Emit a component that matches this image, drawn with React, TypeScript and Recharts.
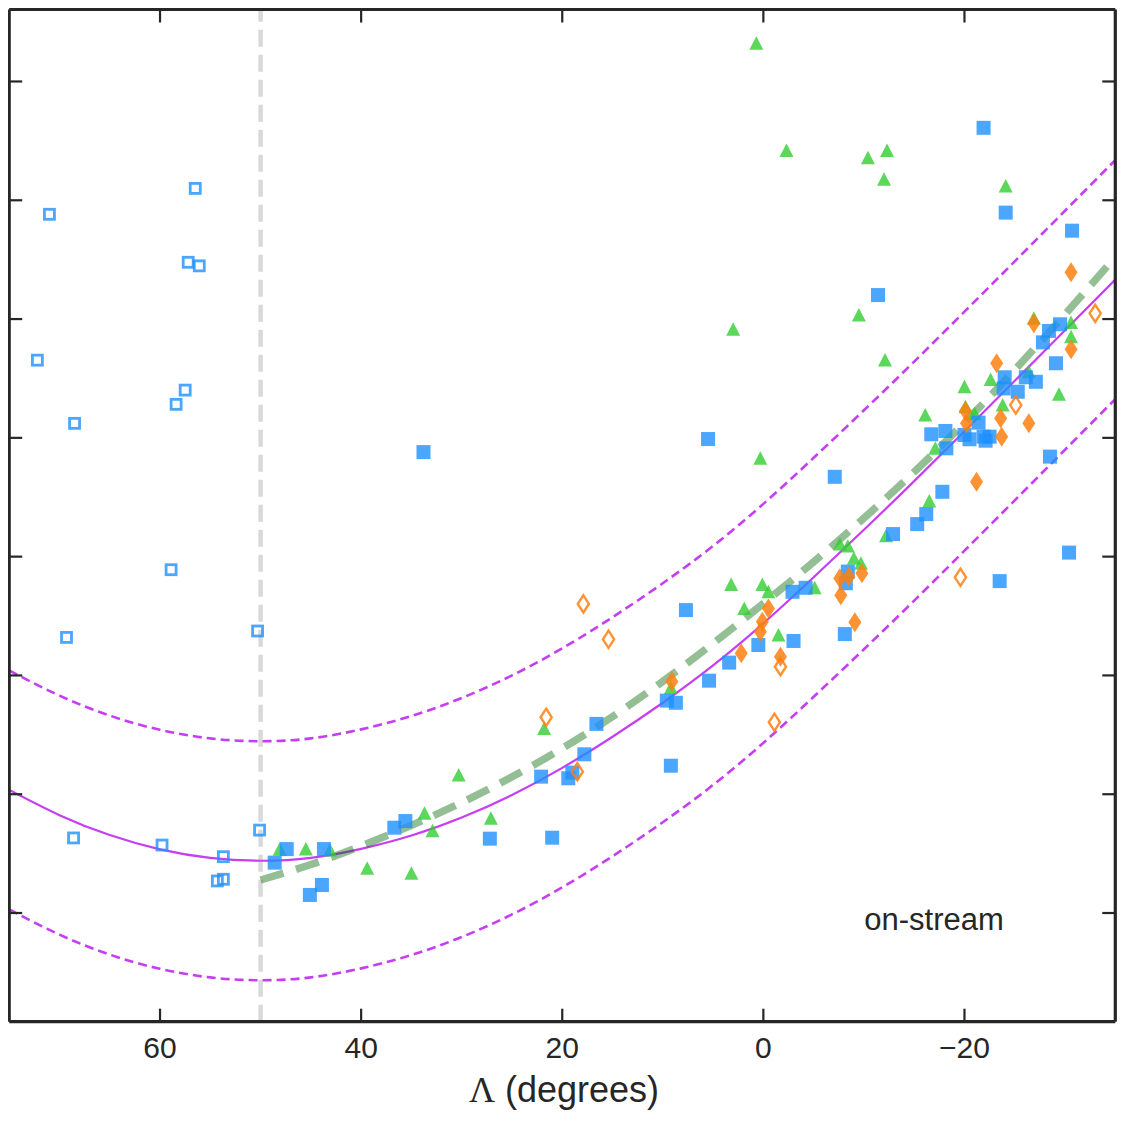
import React from 'react';
import {
  ComposedChart, XAxis, YAxis, Scatter, Line, ReferenceLine, Customized,
} from 'recharts';

// ---- axis ticks ----
const X_TICKS = [60, 40, 20, 0, -20];
const Y_TICKS = [0, 50, 100, 150, 200, 250, 300, 350];
const X_DOMAIN: [number, number] = [-35, 75];
const Y_DOMAIN: [number, number] = [-45.75, 380.3];

// ---- scatter series: [Lambda, value] ----
const OPEN_BLUE: [number, number][] = [
  [56.5, 305.0], [71.0, 294.1], [57.2, 273.9], [56.1, 272.4], [72.2, 232.7], [57.5, 220.1],
  [58.4, 214.1], [68.5, 206.1], [58.9, 144.5], [69.3, 116.0], [50.3, 118.7], [50.1, 34.9],
  [68.6, 31.6], [59.8, 28.6], [53.7, 23.7], [54.3, 13.5], [53.7, 14.2],
];

const FILLED_BLUE: [number, number][] = [
  [48.6, 21.2], [47.4, 26.9], [43.7, 26.9], [45.1, 7.6], [43.9, 11.8], [36.7, 35.9], [35.6, 38.7],
  [27.2, 31.3], [21.0, 31.7], [22.1, 57.4], [19.4, 56.7], [19.0, 59.1], [17.8, 66.8], [16.6, 79.6],
  [9.6, 89.4], [8.7, 88.5], [9.2, 62.0], [7.7, 127.5], [5.4, 97.8], [3.4, 105.4], [0.5, 112.8],
  [-2.9, 135.2], [-4.2, 136.9], [-8.4, 143.7], [-8.2, 138.8], [-8.1, 117.4], [-3.0, 114.5],
  [-7.1, 183.6], [-12.9, 159.5], [-15.3, 163.7], [-16.2, 167.9], [-17.8, 177.3], [-18.2, 195.6],
  [-16.7, 201.5], [-18.1, 202.9], [-20.0, 201.2], [-20.5, 199.4], [-21.4, 206.4], [-21.9, 200.5],
  [-22.1, 198.8], [-22.5, 200.5], [-24.0, 225.5], [-23.9, 220.8], [-25.3, 219.4], [-26.1, 225.5],
  [-27.1, 223.6], [-27.8, 240.2], [-28.4, 245.0], [-29.5, 247.8], [-29.1, 231.4], [-28.5, 192.1],
  [-21.9, 330.5], [-24.1, 294.8], [-30.7, 287.2], [-11.4, 260.1], [-30.4, 151.7], [-23.5, 139.7],
  [5.5, 199.5], [33.8, 194.0],
];

const GREEN_TRI: [number, number][] = [
  [48.1, 26.8], [45.5, 26.9], [43.1, 26.5], [39.4, 18.8], [35.0, 16.7], [33.7, 42.0], [32.9, 34.6],
  [30.3, 58.1], [27.1, 39.9], [21.8, 77.7], [9.2, 94.8], [3.2, 138.3], [0.1, 138.3], [-0.5, 135.2],
  [1.9, 128.2], [-1.5, 117.0], [0.3, 191.4], [-16.5, 173.4], [-17.1, 195.6], [-12.2, 158.8],
  [-7.6, 155.3], [-8.4, 154.5], [-9.0, 149.3], [-9.7, 147.2], [-5.1, 136.9], [-12.1, 232.8],
  [-20.0, 221.5], [-22.6, 224.6], [-16.1, 209.6], [-20.1, 213.1], [-21.0, 210.3], [-23.8, 213.8],
  [-26.4, 227.8], [-30.6, 248.6], [-30.6, 242.6], [-29.4, 218.4], [-26.9, 250.3], [0.7, 366.1],
  [-2.3, 320.9], [-10.4, 317.9], [-12.3, 320.9], [-12.0, 308.8], [-24.1, 306.0], [-9.5, 251.7],
  [3.0, 245.7],
];

const ORANGE_FILLED: [number, number][] = [
  [9.1, 97.4], [2.2, 109.3], [0.1, 122.6], [0.3, 118.4], [-0.5, 128.2], [-21.2, 181.5], [-7.6, 140.9],
  [-8.5, 141.5], [-9.8, 143.0], [-7.7, 133.8], [-9.1, 122.4], [-1.7, 107.9], [-26.9, 248.2],
  [-30.6, 237.3], [-23.2, 231.4], [-20.2, 206.1], [-23.6, 208.2], [-23.7, 200.5], [-26.4, 206.1],
  [-30.6, 269.7], [-20.1, 211.3],
];

const ORANGE_OPEN: [number, number][] = [
  [17.9, 130.1], [15.4, 115.2], [21.6, 82.4], [18.5, 59.5], [-1.1, 80.3], [-1.7, 103.7],
  [-19.6, 141.3], [-25.1, 213.8], [-33.0, 252.4],
];

// ---- model curves ----
const CURVE_L = [75, 70, 65, 60, 55, 50, 45, 40, 35, 30, 25, 20, 15, 10, 5, 0, -5, -10, -15, -20, -25, -30, -35];
const CURVE_MID = [51.8, 41.2, 32.8, 26.8, 23.2, 22.0, 23.2, 27.0, 32.6, 40.2, 49.7, 61.1, 74.2, 88.5, 104.2, 121.9, 141.3, 161.3, 181.8, 202.8, 224.0, 245.3, 266.6];
const CURVE_UPPER = [102.1, 91.5, 83.1, 77.1, 73.5, 72.3, 73.5, 77.3, 82.9, 90.5, 100.0, 111.4, 124.5, 138.8, 154.5, 172.2, 191.6, 211.6, 232.1, 253.1, 274.3, 295.6, 316.9];
const CURVE_LOWER = [1.5, -9.1, -17.5, -23.5, -27.1, -28.3, -27.1, -23.3, -17.7, -10.1, -0.6, 10.8, 23.9, 38.2, 53.9, 71.6, 91.0, 111.0, 131.5, 152.5, 173.7, 195.0, 216.3];

const STREAM_L = [50, 45, 40, 35, 30, 25, 20, 15, 10, 5, 0, -5, -10, -15, -20, -25, -30, -35];
const STREAM_V = [13.9, 20.4, 28.2, 36.9, 46.5, 57.3, 69.3, 82.7, 97.5, 113.5, 130.3, 147.8, 166.2, 185.6, 206.4, 228.6, 252.0, 276.1];

const toPts = (arr: [number, number][]) => arr.map(([L, v]) => ({ L, v }));
const toCurve = (ls: number[], vs: number[]) => ls.map((L, i) => ({ L, v: vs[i] }));

const BLUE = '#1E90FF';
const GREEN = '#32CD32';
const ORANGE = '#FF7F0E';
const PURPLE = '#C63EF4';
const INK = '#262626';
const SANS = "'Liberation Sans', Arial, sans-serif";
const TICK_LEN = 13;
const TICK_W = 2.2;

const SquareFilled = (p: any) => (
  <rect x={p.cx - 7} y={p.cy - 7} width={14} height={14} fill={BLUE} fillOpacity={0.8} />
);
const SquareOpen = (p: any) => (
  <rect x={p.cx - 5} y={p.cy - 5} width={10} height={10} fill="none" stroke={BLUE} strokeOpacity={0.8} strokeWidth={2.8} />
);
const Triangle = (p: any) => (
  <polygon
    points={`${p.cx},${p.cy - 7} ${p.cx - 7},${p.cy + 6.5} ${p.cx + 7},${p.cy + 6.5}`}
    fill={GREEN} fillOpacity={0.8}
  />
);
const DiamondFilled = (p: any) => (
  <polygon
    points={`${p.cx},${p.cy - 10} ${p.cx + 6.5},${p.cy} ${p.cx},${p.cy + 10} ${p.cx - 6.5},${p.cy}`}
    fill={ORANGE} fillOpacity={0.85}
  />
);
const DiamondOpen = (p: any) => (
  <polygon
    points={`${p.cx},${p.cy - 8.6} ${p.cx + 5.6},${p.cy} ${p.cx},${p.cy + 8.6} ${p.cx - 5.6},${p.cy}`}
    fill="none" stroke={ORANGE} strokeOpacity={0.85} strokeWidth={2.4}
  />
);

const fmtX = (v: number) => (v < 0 ? `\u2212${Math.abs(v)}` : `${v}`);

// custom ticks: inward tick marks drawn from the axis position
const BottomTick = (props: any) => {
  const { x, y, payload } = props;
  return (
    <g>
      <line x1={x} x2={x} y1={y} y2={y - TICK_LEN} stroke={INK} strokeWidth={TICK_W} />
      <text x={x} y={y} dy={36} textAnchor="middle" fill={INK} fontSize={30} fontFamily={SANS}>
        {fmtX(payload.value)}
      </text>
    </g>
  );
};
const TopTick = (props: any) => {
  const { x, y } = props;
  return <line x1={x} x2={x} y1={y} y2={y + TICK_LEN} stroke={INK} strokeWidth={TICK_W} />;
};
const LeftTick = (props: any) => {
  const { x, y } = props;
  return <line x1={x} x2={x + TICK_LEN} y1={y} y2={y} stroke={INK} strokeWidth={TICK_W} />;
};
const RightTick = (props: any) => {
  const { x, y } = props;
  return <line x1={x} x2={x - TICK_LEN} y1={y} y2={y} stroke={INK} strokeWidth={TICK_W} />;
};

const Labels = () => (
  <g>
    <text x={556} y={1094} textAnchor="middle" fill={INK} fontSize={36} fontFamily={SANS}>
      <tspan fontFamily="'Liberation Serif', 'DejaVu Serif', serif">Λ</tspan> (degrees)
    </text>
    <text x={926} y={922} textAnchor="middle" fill={INK} fontSize={31} fontFamily={SANS}>
      on-stream
    </text>
  </g>
);

export default function App() {
  const axisLine = { stroke: INK, strokeWidth: 3.2 };
  return (
    <div style={{ width: 1112, height: 1115 }}>
      <ComposedChart width={1112} height={1115} margin={{ top: 0.5, right: 3.7, bottom: 0, left: 0.2 }}>
        <XAxis
          xAxisId="b" type="number" dataKey="L" orientation="bottom" domain={X_DOMAIN} reversed
          allowDataOverflow ticks={X_TICKS} height={101.3} axisLine={axisLine} tickLine={false}
          tickSize={0} tickMargin={0} tick={<BottomTick />} interval={0}
        />
        <XAxis
          xAxisId="t" type="number" dataKey="L" orientation="top" domain={X_DOMAIN} reversed
          allowDataOverflow ticks={X_TICKS} height={1} axisLine={axisLine} tickLine={false}
          tickSize={0} tickMargin={0} tick={<TopTick />} interval={0}
        />
        <YAxis
          yAxisId="l" type="number" dataKey="v" orientation="left" domain={Y_DOMAIN}
          allowDataOverflow ticks={Y_TICKS} width={1} axisLine={axisLine} tickLine={false}
          tickSize={0} tickMargin={0} tick={<LeftTick />} interval={0}
        />
        <YAxis
          yAxisId="r" type="number" dataKey="v" orientation="right" domain={Y_DOMAIN}
          allowDataOverflow ticks={Y_TICKS} width={1} axisLine={axisLine} tickLine={false}
          tickSize={0} tickMargin={0} tick={<RightTick />} interval={0}
        />
        <ReferenceLine
          xAxisId="b" yAxisId="l" x={50} stroke="#D9D9D9" strokeWidth={4.5} strokeDasharray="17 8"
        />
        <Scatter xAxisId="b" yAxisId="l" data={toPts(OPEN_BLUE)} shape={SquareOpen} isAnimationActive={false} />
        <Scatter xAxisId="b" yAxisId="l" data={toPts(GREEN_TRI)} shape={Triangle} isAnimationActive={false} />
        <Scatter xAxisId="b" yAxisId="l" data={toPts(FILLED_BLUE)} shape={SquareFilled} isAnimationActive={false} />
        <Scatter xAxisId="b" yAxisId="l" data={toPts(ORANGE_FILLED)} shape={DiamondFilled} isAnimationActive={false} />
        <Scatter xAxisId="b" yAxisId="l" data={toPts(ORANGE_OPEN)} shape={DiamondOpen} isAnimationActive={false} />
        <Line
          xAxisId="b" yAxisId="l" data={toCurve(CURVE_L, CURVE_UPPER)} dataKey="v" type="natural"
          stroke={PURPLE} strokeWidth={2.6} strokeDasharray="9 5" dot={false} activeDot={false} isAnimationActive={false}
        />
        <Line
          xAxisId="b" yAxisId="l" data={toCurve(CURVE_L, CURVE_LOWER)} dataKey="v" type="natural"
          stroke={PURPLE} strokeWidth={2.6} strokeDasharray="9 5" dot={false} activeDot={false} isAnimationActive={false}
        />
        <Line
          xAxisId="b" yAxisId="l" data={toCurve(CURVE_L, CURVE_MID)} dataKey="v" type="natural"
          stroke={PURPLE} strokeWidth={2.2} dot={false} activeDot={false} isAnimationActive={false}
        />
        <Line
          xAxisId="b" yAxisId="l" data={toCurve(STREAM_L, STREAM_V)} dataKey="v" type="natural"
          stroke="#006400" strokeOpacity={0.42} strokeWidth={7.5} strokeDasharray="24 13"
          dot={false} activeDot={false} isAnimationActive={false}
        />
        <Customized component={Labels} />
      </ComposedChart>
    </div>
  );
}
